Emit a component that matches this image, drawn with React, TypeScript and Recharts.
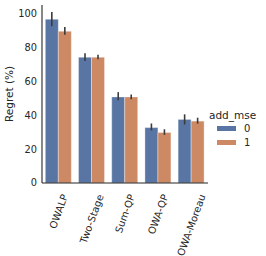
import { Bar, BarChart, ErrorBar, XAxis, YAxis } from 'recharts'

const categories = ['OWALP', 'Two-Stage', 'Sum-QP', 'OWA-QP', 'OWA-Moreau']
const mse0 = [96.6, 74.2, 50.8, 32.7, 37.5]
const mse1 = [89.5, 74.2, 50.8, 29.8, 36.5]
const err0: [number, number][] = [[4.2, 4.2], [2.2, 2.4], [2.0, 2.8], [1.7, 2.4], [3.0, 3.0]]
const err1: [number, number][] = [[2.0, 2.5], [1.2, 1.4], [1.4, 1.4], [1.4, 1.9], [1.5, 2.0]]
const yTicks = [0, 20, 40, 60, 80, 100]
const groups = ['0', '1']

const BLUE = '#5875a4'
const ORANGE = '#cc8963'
const INK = '#262626'
const FONT = '"DejaVu Sans", sans-serif'

const data = categories.map((name, i) => ({
  name,
  v0: mse0[i],
  v1: mse1[i],
  e0: err0[i],
  e1: err1[i],
}))

let ctx: CanvasRenderingContext2D | null = null
const measure = (s: string, size: number) => {
  if (!ctx) ctx = document.createElement('canvas').getContext('2d')
  if (!ctx) return s.length * size * 0.65
  ctx.font = `${size}px "DejaVu Sans"`
  return ctx.measureText(s).width
}

const ANGLE = 70
const XTick = ({ x, y, payload }: any) => {
  const size = 10
  const L = measure(payload.value, size)
  const t = (ANGLE * Math.PI) / 180
  const V = L * Math.sin(t) + size * Math.cos(t)
  const cy = y + 8 + V / 2
  return (
    <text
      x={x}
      y={cy}
      textAnchor="middle"
      dominantBaseline="central"
      fontSize={size}
      fontFamily={FONT}
      fill={INK}
      transform={`rotate(-${ANGLE}, ${x}, ${cy})`}
    >
      {payload.value}
    </text>
  )
}

export default function App() {
  return (
    <div style={{ position: 'absolute', left: 0, top: 0, width: 266, height: 256, background: '#fff' }}>
      <BarChart
        width={266}
        height={256}
        data={data}
        margin={{ top: 5, right: 58, bottom: 0, left: 0 }}
        barCategoryGap="10%"
        barGap={0}
      >
        <XAxis
          dataKey="name"
          height={73}
          tickLine={false}
          tickSize={0}
          axisLine={{ stroke: INK, strokeWidth: 1.1 }}
          tick={<XTick />}
          interval={0}
        />
        <YAxis
          width={42}
          domain={[0, 105]}
          ticks={yTicks}
          tickLine={false}
          tickSize={0}
          tickMargin={5}
          axisLine={{ stroke: INK, strokeWidth: 1.1 }}
          tick={{ fontSize: 9.8, fontFamily: FONT, fill: INK }}
          label={({ viewBox }: any) => {
            const cx = viewBox.x + 9
            const cy = viewBox.y + viewBox.height / 2
            return (
              <text
                x={cx}
                y={cy}
                textAnchor="middle"
                dominantBaseline="central"
                fontSize={10.5}
                fontFamily={FONT}
                fill={INK}
                transform={`rotate(-90, ${cx}, ${cy})`}
              >
                Regret (%)
              </text>
            )
          }}
        />
        <Bar dataKey="v0" fill={BLUE} stroke="#fff" strokeOpacity={0.6} strokeWidth={0.6} isAnimationActive={false}>
          <ErrorBar dataKey="e0" width={0} stroke="#3b3b3b" strokeWidth={1.6} direction="y" />
        </Bar>
        <Bar dataKey="v1" fill={ORANGE} stroke="#fff" strokeOpacity={0.6} strokeWidth={0.6} isAnimationActive={false}>
          <ErrorBar dataKey="e1" width={0} stroke="#3b3b3b" strokeWidth={1.6} direction="y" />
        </Bar>
      </BarChart>
      <div style={{ position: 'absolute', left: 209, top: 108, fontFamily: FONT, fontSize: 10.5, color: INK, lineHeight: '14px' }}>
        add_mse
      </div>
      {groups.map((g, i) => (
        <div key={g} style={{ position: 'absolute', left: 217, top: 121 + i * 14.5, height: 14, display: 'flex', alignItems: 'center' }}>
          <div style={{ width: 19, height: 5, background: i === 0 ? BLUE : ORANGE }} />
          <span style={{ marginLeft: 8, fontFamily: FONT, fontSize: 10, color: INK }}>{g}</span>
        </div>
      ))}
    </div>
  )
}
